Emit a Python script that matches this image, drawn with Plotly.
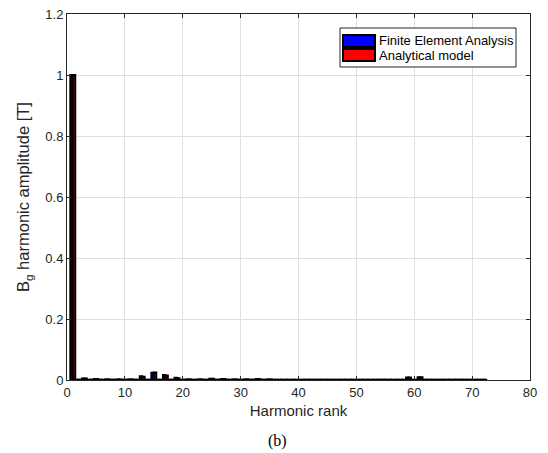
import plotly.graph_objects as go

harmonics = list(range(1, 73))
fea_vals = [0.001] * 72
ana_vals = [0.001] * 72
fea_known = {1: 1.0, 3: 0.005, 5: 0.003, 7: 0.002, 9: 0.002, 11: 0.002, 13: 0.012, 15: 0.024,
             17: 0.016, 19: 0.007, 21: 0.002, 23: 0.002, 25: 0.004, 27: 0.003, 29: 0.002,
             31: 0.002, 33: 0.003, 35: 0.002, 59: 0.008, 61: 0.009}
ana_known = {1: 1.0, 3: 0.005, 5: 0.003, 7: 0.002, 9: 0.002, 11: 0.002, 13: 0.011, 15: 0.025,
             17: 0.015, 19: 0.006, 21: 0.002, 23: 0.002, 25: 0.004, 27: 0.003, 29: 0.002,
             31: 0.002, 33: 0.003, 35: 0.002, 59: 0.008, 61: 0.009}
for h, v in fea_known.items():
    fea_vals[h - 1] = v
for h, v in ana_known.items():
    ana_vals[h - 1] = v

series_names = ["Finite Element Analysis", "Analytical model"]
series_colors = ["#0000ff", "#ff0000"]

x_ticks = [0, 10, 20, 30, 40, 50, 60, 70, 80]
y_ticks = [0, 0.2, 0.4, 0.6, 0.8, 1.0, 1.2]
y_tick_text = ["0", "0.2", "0.4", "0.6", "0.8", "1", "1.2"]

fig = go.Figure()
for vals, name, col in zip([fea_vals, ana_vals], series_names, series_colors):
    fig.add_trace(go.Bar(x=harmonics, y=vals, name=name, showlegend=False,
                         marker=dict(color=col, line=dict(color="black", width=2))))

# page body has an 8px default margin, so the figure is shifted by (8, 8)
OFF = 8
W, H = 548 - OFF, 453 - OFF
l, r, t, b = 67 - OFF, 18, 14 - OFF, 73
pw, ph = W - l - r, H - t - b

FAM = "Liberation Sans, Arial, sans-serif"
tick_font = dict(family=FAM, size=13, color="#262626")
xtitle_font = dict(family=FAM, size=15, color="#262626")
ytitle_font = dict(family=FAM, size=16.5, color="#262626")
fig.update_layout(
    width=W, height=H,
    margin=dict(l=l, r=r, t=t, b=b, autoexpand=False),
    paper_bgcolor="white", plot_bgcolor="white",
    barmode="group", bargap=0.15, bargroupgap=0,
    font=tick_font,
    xaxis=dict(range=[0, 80], tickvals=x_ticks, showgrid=True, gridcolor="#e0e0e0", gridwidth=1,
               zeroline=False, showline=True, linecolor="#262626", linewidth=1, mirror="ticks",
               ticks="inside", ticklen=4, tickcolor="#262626", tickfont=tick_font, automargin=False,
               ticklabeloverflow="allow",
               title=dict(text="Harmonic rank", standoff=6, font=xtitle_font)),
    yaxis=dict(range=[0, 1.2], tickvals=y_ticks, ticktext=y_tick_text, showgrid=True,
               gridcolor="#e0e0e0", gridwidth=1, zeroline=False, showline=True,
               linecolor="#262626", linewidth=1, mirror="ticks", automargin=False,
               ticks="inside", ticklen=4, tickcolor="#262626", tickfont=tick_font,
               ticklabeloverflow="allow",
               title=dict(text="B<sub>g</sub> harmonic amplitude [T]", standoff=11, font=ytitle_font)),
)

def px(x):
    return (x - OFF - l) / pw
def py(y):
    return 1 - (y - OFF - t) / ph

fig.add_shape(type="rect", xref="paper", yref="paper", x0=px(340), x1=px(516), y0=py(67), y1=py(28),
              line=dict(color="#262626", width=1), fillcolor="white", layer="above")
rows = [41, 55]
for yc, name, col in zip(rows, series_names, series_colors):
    fig.add_shape(type="rect", xref="paper", yref="paper", x0=px(343), x1=px(375),
                  y0=py(yc + 6), y1=py(yc - 6),
                  line=dict(color="black", width=2), fillcolor=col, layer="above")
    fig.add_annotation(text=name, xref="paper", yref="paper", x=px(377), y=py(yc),
                       xanchor="left", yanchor="middle", showarrow=False,
                       font=dict(family=FAM, size=13, color="black"))

fig.add_annotation(text="(b)", xref="paper", yref="paper", x=px(277), y=py(441),
                   xanchor="center", yanchor="middle", showarrow=False,
                   font=dict(family="Liberation Serif, Times New Roman, serif", size=16, color="black"))
fig.write_html("out.html")
